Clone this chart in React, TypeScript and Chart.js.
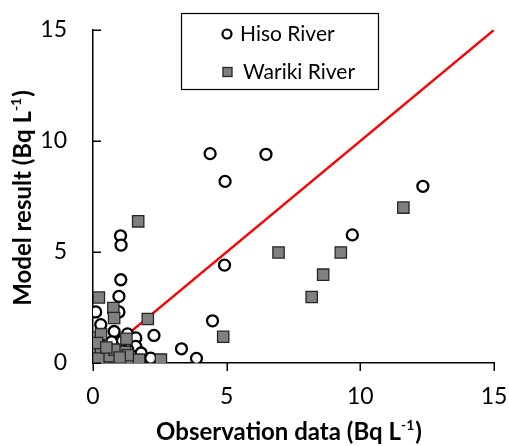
import React, { useEffect, useRef } from "react";
import { Chart, registerables } from "chart.js";

Chart.register(...registerables);

const hisoX = [4.38, 6.47, 4.94, 12.34, 9.7, 4.92, 4.47, 3.31, 3.87, 1.03, 1.05, 1.04, 0.97, 0.1, 0.97, 0.29, 0.79, 1.29, 1.6, 2.28, 1.6, 2.16, 0.4, 0.2, 0.6, 1.0, 0.3, 1.3, 0.8, 0.1, 0.5, 1.5, 0.15, 1.1, 0.7, 1.8];
const hisoY = [9.43, 9.4, 8.18, 7.96, 5.77, 4.41, 1.9, 0.64, 0.21, 5.73, 5.31, 3.75, 3.0, 2.3, 2.3, 1.73, 1.42, 1.31, 1.13, 1.24, 0.75, 0.22, 0.9, 1.0, 0.6, 0.5, 0.3, 0.6, 0.2, 0.1, 0.05, 0.3, 0.5, 1.0, 0.95, 0.45];

const warikiX = [11.61, 6.94, 9.27, 8.61, 8.18, 4.87, 1.69, 0.22, 0.76, 0.79, 2.05, 0.13, 0.3, 1.25, 0.1, 0.3, 0.04, 0.41, 0.91, 1.35, 1.72, 2.54, 0.6, 1.2, 0.2, 0.8, 1.3, 0.15, 1.0, 0.5];
const warikiY = [7.0, 4.98, 4.98, 3.98, 2.97, 1.18, 6.38, 2.95, 2.48, 2.03, 1.98, 1.15, 1.3, 1.09, 0.67, 0.45, 0.04, 0.04, 0.1, 0.1, 0.15, 0.15, 0.3, 0.5, 0.2, 0.6, 0.35, 0.9, 0.25, 0.7];

const lineX = [0, 15];
const lineY = [0, 15];

const axisTicks = [0, 5, 10, 15];
const seriesNames = ["Hiso River", "Wariki River"];
const xTitle = ["Observation data (Bq L", "-1", ")"];
const yTitle = ["Model result (Bq L", "-1", ")"];

const FONT = "Lato, 'Open Sans', sans-serif";

function drawTitle(ctx: CanvasRenderingContext2D, parts: string[], cx: number, cy: number, rot: number) {
  ctx.save();
  ctx.translate(cx, cy);
  ctx.rotate(rot);
  const main = "bold 24px " + FONT;
  const sup = "bold 14px " + FONT;
  ctx.font = main;
  const w1 = ctx.measureText(parts[0]).width;
  const w3 = ctx.measureText(parts[2]).width;
  ctx.font = sup;
  const w2 = ctx.measureText(parts[1]).width;
  const total = w1 + w2 + w3 + 1;
  let x = -total / 2;
  ctx.fillStyle = "#000";
  ctx.textBaseline = "alphabetic";
  ctx.textAlign = "left";
  ctx.font = main;
  ctx.fillText(parts[0], x, 8);
  x += w1;
  ctx.font = sup;
  ctx.fillText(parts[1], x, -2);
  x += w2 + 1;
  ctx.font = main;
  ctx.fillText(parts[2], x, 8);
  ctx.restore();
}

const decorPlugin = {
  id: "decor",
  afterDraw(chart: any) {
    const ctx = chart.ctx as CanvasRenderingContext2D;
    const xs = chart.scales.x;
    const ys = chart.scales.y;
    const area = chart.chartArea;
    ctx.save();
    ctx.strokeStyle = "#000";
    ctx.lineWidth = 1.5;
    axisTicks.forEach((v) => {
      const py = Math.round(ys.getPixelForValue(v)) + 0.25;
      ctx.beginPath();
      ctx.moveTo(area.left, py);
      ctx.lineTo(area.left + 8, py);
      ctx.stroke();
    });
    axisTicks.forEach((v) => {
      const px = Math.round(xs.getPixelForValue(v)) + 0.25;
      ctx.beginPath();
      ctx.moveTo(px, area.bottom);
      ctx.lineTo(px, area.bottom + 8);
      ctx.stroke();
    });
    ctx.restore();

    drawTitle(ctx, xTitle, 289, 432, 0);
    drawTitle(ctx, yTitle, 23, 198, -Math.PI / 2);

    ctx.save();
    ctx.fillStyle = "#fff";
    ctx.fillRect(181, 13, 198, 77);
    ctx.strokeStyle = "#000";
    ctx.lineWidth = 1.2;
    ctx.strokeRect(181.5, 13.5, 197, 76);
    ctx.beginPath();
    ctx.arc(227, 34, 4.5, 0, Math.PI * 2);
    ctx.fillStyle = "#fff";
    ctx.fill();
    ctx.lineWidth = 2.2;
    ctx.strokeStyle = "#000";
    ctx.stroke();
    ctx.fillStyle = "#808080";
    ctx.fillRect(223, 67.5, 9, 9);
    ctx.lineWidth = 1.3;
    ctx.strokeStyle = "#222";
    ctx.strokeRect(223, 67.5, 9, 9);
    ctx.fillStyle = "#000";
    ctx.font = "21px " + FONT;
    ctx.textBaseline = "middle";
    ctx.textAlign = "left";
    ctx.fillText(seriesNames[0], 240, 34);
    ctx.fillText(seriesNames[1], 243, 72);
    ctx.restore();
  },
};

function zeroPad(s: any) {
  s.paddingTop = 0;
  s.paddingBottom = 0;
  s.paddingLeft = 0;
  s.paddingRight = 0;
}

export default function App() {
  const ref = useRef<HTMLCanvasElement | null>(null);
  useEffect(() => {
    if (!ref.current) return;
    const chart = new Chart(ref.current, {
      type: "scatter",
      data: {
        datasets: [
          {
            label: seriesNames[1],
            data: warikiX.map((x, i) => ({ x, y: warikiY[i] })),
            pointStyle: "rect",
            pointRadius: 8,
            backgroundColor: "#808080",
            borderColor: "#262626",
            borderWidth: 1.3,
            order: 0,
          },
          {
            label: seriesNames[0],
            data: hisoX.map((x, i) => ({ x, y: hisoY[i] })),
            pointStyle: "circle",
            pointRadius: 5.5,
            backgroundColor: "#fff",
            borderColor: "#000",
            borderWidth: 2.3,
            order: 1,
          },
          {
            type: "line",
            label: "1:1",
            data: lineX.map((x, i) => ({ x, y: lineY[i] })),
            borderColor: "#ff0000",
            borderWidth: 2.5,
            pointRadius: 0,
            fill: false,
            order: 2,
          } as any,
        ],
      },
      options: {
        responsive: false,
        animation: false,
        layout: { padding: { left: 0, right: 15, top: 30, bottom: 0 } },
        plugins: { legend: { display: false }, tooltip: { enabled: false } },
        scales: {
          x: {
            type: "linear",
            min: 0,
            max: 15,
            afterBuildTicks: (s: any) => {
              s.ticks = axisTicks.map((v) => ({ value: v }));
            },
            afterFit: (s: any) => {
              s.height = 83;
              zeroPad(s);
            },
            grid: { display: false, drawTicks: false },
            border: { display: true, color: "#000", width: 1.5 },
            ticks: { color: "#000", font: { family: FONT, size: 23 }, padding: 20 },
          },
          y: {
            type: "linear",
            min: 0,
            max: 15,
            afterBuildTicks: (s: any) => {
              s.ticks = axisTicks.map((v) => ({ value: v }));
            },
            afterFit: (s: any) => {
              s.width = 93;
              zeroPad(s);
            },
            grid: { display: false, drawTicks: false },
            border: { display: true, color: "#000", width: 1.5 },
            ticks: { color: "#000", font: { family: FONT, size: 23 }, padding: 26 },
          },
        },
      },
      plugins: [decorPlugin],
    });
    return () => chart.destroy();
  }, []);
  return (
    <div style={{ position: "absolute", left: 0, top: 0, width: 509, height: 446, background: "#fff" }}>
      <canvas ref={ref} width={509} height={446} />
    </div>
  );
}
